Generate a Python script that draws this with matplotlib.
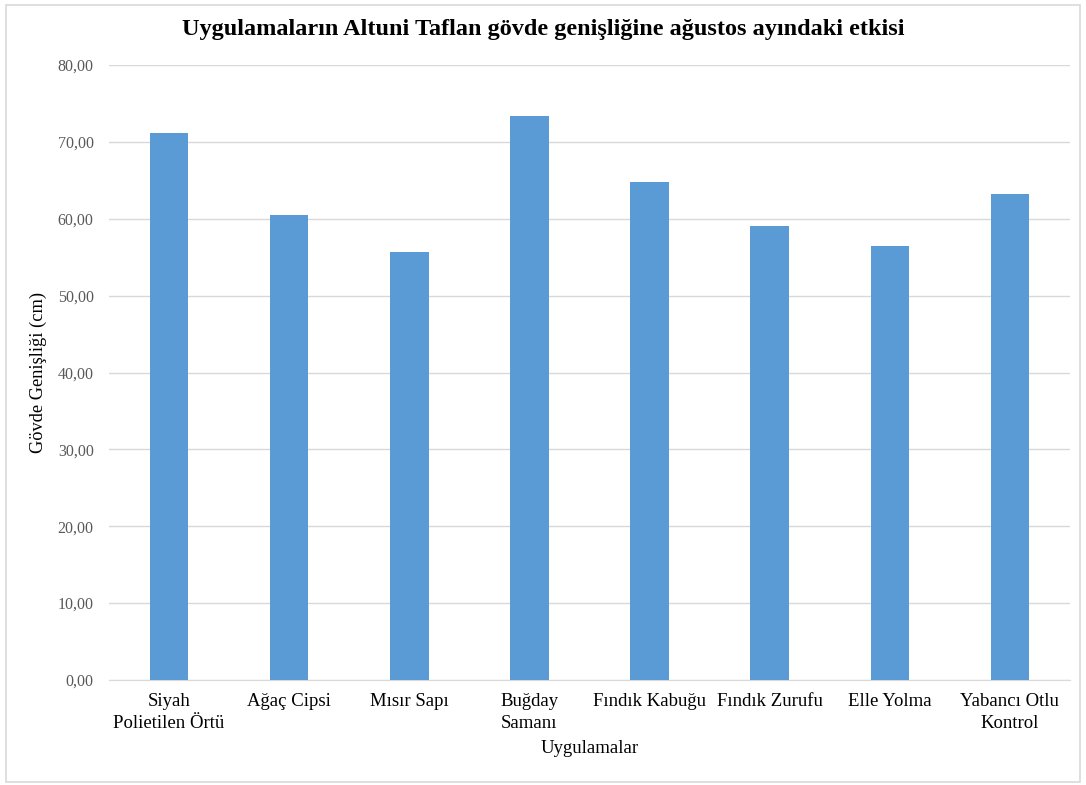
import numpy as np
import matplotlib.pyplot as plt
from matplotlib.patches import Rectangle

# veriler
uygulamalar = ['Siyah\nPolietilen Örtü', 'Ağaç Cipsi', 'Mısır Sapı', 'Buğday\nSamanı',
               'Fındık Kabuğu', 'Fındık Zurufu', 'Elle Yolma', 'Yabancı Otlu\nKontrol']
genislik = [71.2, 60.5, 55.7, 73.4, 64.8, 59.1, 56.5, 63.2]
yticks = [0, 10, 20, 30, 40, 50, 60, 70, 80]

plt.rcParams['font.family'] = ['Liberation Serif', 'DejaVu Serif']

fig = plt.figure(figsize=(10.86, 7.85), dpi=100)
ax = fig.add_axes([109/1086, 1 - 680/785, 961/1086, 615/785])

x = np.arange(len(uygulamalar))
ax.bar(x, genislik, width=0.32, color='#5B9BD5', zorder=3)

ax.set_xlim(-0.5, len(uygulamalar) - 0.5)
ax.set_ylim(0, 80)
ax.set_yticks(yticks)
ax.set_yticklabels(['%d,00' % v for v in yticks], color='#595959', fontsize=11.5)
ax.set_xticks(x)
ax.set_xticklabels(uygulamalar, fontsize=13.5, color='black', linespacing=1.4)
ax.tick_params(axis='y', length=0, pad=11)
ax.tick_params(axis='x', length=0, pad=9)
ax.yaxis.grid(True, color='#D9D9D9', linewidth=1, zorder=0)
for s in ['top', 'right', 'left']:
    ax.spines[s].set_visible(False)
ax.spines['bottom'].set_color('#D9D9D9')

ax.set_ylabel('Gövde Genişliği (cm)', fontsize=13.2, labelpad=8)
ax.set_xlabel('Uygulamalar', fontsize=13.5, labelpad=6)

fig.text(0.5, 1 - 30/785, 'Uygulamaların Altuni Taflan gövde genişliğine ağustos ayındaki etkisi',
         ha='center', va='center', fontsize=17.5, fontweight='bold')

# dış çerçeve
fig.patches.append(Rectangle((6/1086, 3/785), 1074/1086, 777/785, transform=fig.transFigure,
                             fill=False, edgecolor='#D9D9D9', linewidth=1.2))

plt.savefig('out.png', dpi=100)
